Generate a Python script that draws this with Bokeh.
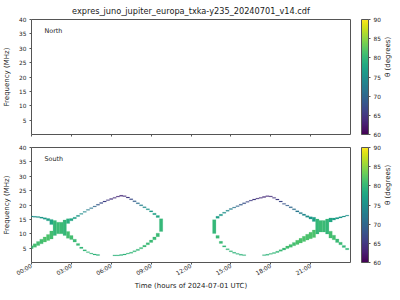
from math import pi
from bokeh.plotting import figure
from bokeh.models import (ColumnDataSource, ColorBar, LinearColorMapper, FixedTicker,
                          Label, Range1d, LinearAxis)
from bokeh.layouts import column
from bokeh.palettes import Viridis256
from bokeh.transform import linear_cmap
from bokeh.embed import file_html
from bokeh.resources import INLINE

# ---------------- texts & ticks ----------------
title_text = "expres_juno_jupiter_europa_txka-y235_20240701_v14.cdf"
x_label = "Time (hours of 2024-07-01 UTC)"
y_label = "Frequency (MHz)"
cbar_label = "θ (degrees)"
hemispheres = ["North", "South"]

time_ticks = [0, 3, 6, 9, 12, 15, 18, 21]
time_tick_labels = ["00:00", "03:00", "06:00", "09:00", "12:00", "15:00", "18:00", "21:00"]
freq_ticks = [5, 10, 15, 20, 25, 30, 35, 40]
theta_ticks = [60, 65, 70, 75, 80, 85, 90]
theta_low, theta_high = 60, 90
time_start, time_end = 0, 24
freq_low, freq_high = 0, 40
time_step = 0.25  # hours per spectrogram column

# ---------------- South hemisphere emission (North is empty) ----------------
# each branch: column time (h), centre frequency (MHz), bandwidth (MHz), theta (deg)
a_t = [0, 0.25, 0.5, 0.75, 1.0, 1.25, 1.5]
a_f = [16.0, 15.9, 15.8, 15.6, 15.3, 14.9, 14.1]
a_bw = [0.3, 0.3, 0.35, 0.4, 0.5, 0.8, 1.8]
a_th = [75, 75, 75.5, 76, 76.5, 77, 78]

b_t = [0, 0.25, 0.5, 0.75, 1.0, 1.25, 1.5]
b_f = [5.3, 5.9, 6.6, 7.3, 8.0, 8.7, 9.6]
b_bw = [1.0, 1.2, 1.4, 1.6, 1.8, 2.1, 2.8]
b_th = [80.5, 81, 81, 81, 81.5, 81.5, 81]

x1_t = [1.75, 2.0, 2.25, 2.5]
x1_f = [12.0, 12.0, 12.0, 12.1]
x1_bw = [5.2, 4.0, 4.0, 5.4]
x1_th = [80, 80.5, 80.5, 80]

c_t = [2.75, 3.0, 3.25, 3.5, 3.75, 4.0, 4.25, 4.5, 4.75, 5.0, 5.25, 5.5, 5.75, 6.0,
       6.25, 6.5, 6.75, 7.0, 7.25, 7.5, 7.75, 8.0, 8.25, 8.5, 8.75, 9.0, 9.25, 9.5]
c_f = [14.4, 14.9, 15.5, 16.2, 16.9, 17.6, 18.3, 18.9, 19.5, 20.1, 20.7, 21.2, 21.7, 22.1,
       22.5, 22.9, 23.2, 23.1, 22.6, 22.0, 21.3, 20.6, 19.9, 19.2, 18.5, 17.8, 16.9, 16.0]
c_bw = [1.6, 0.8, 0.5, 0.4, 0.3, 0.3, 0.3, 0.3, 0.3, 0.3, 0.3, 0.3, 0.3, 0.3,
        0.3, 0.3, 0.3, 0.3, 0.3, 0.3, 0.3, 0.3, 0.3, 0.3, 0.35, 0.4, 0.5, 0.7]
c_th = [79, 78, 77, 76, 75, 74, 73, 71.5, 70, 68.5, 67, 66, 65, 64.5,
        64, 63.5, 63.5, 64, 65, 67, 69, 71, 73, 74.5, 75.5, 76.5, 77, 78]

n1_t = [9.75]
n1_f = [13.0]
n1_bw = [4.4]
n1_th = [80]

d_t = [2.75, 3.0, 3.25, 3.5, 3.75, 4.0, 4.25, 4.5, 4.75, 5.0, 6.25, 6.5, 6.75, 7.0,
       7.25, 7.5, 7.75, 8.0, 8.25, 8.5, 8.75, 9.0, 9.25, 9.5]
d_f = [9.6, 8.7, 7.6, 6.3, 5.1, 4.2, 3.6, 3.1, 2.8, 2.6, 2.5, 2.5, 2.6, 2.8,
       3.1, 3.4, 3.9, 4.4, 5.0, 5.7, 6.5, 7.4, 8.4, 9.6]
d_bw = [2.4, 1.4, 1.0, 0.7, 0.5, 0.4, 0.3, 0.3, 0.3, 0.3, 0.3, 0.3, 0.3, 0.3,
        0.3, 0.35, 0.4, 0.45, 0.5, 0.6, 0.7, 0.8, 1.0, 1.2]
d_th = [81, 81, 80.5, 80.5, 80, 80, 80, 80, 79.5, 79.5, 79.5, 79.5, 79.5, 79.5,
        80, 80, 80, 80, 80.5, 80.5, 80.5, 80.5, 80.5, 80.5]

n2_t = [13.75]
n2_f = [12.5]
n2_bw = [4.8]
n2_th = [80]

e_t = [14.0, 14.25, 14.5, 14.75, 15.0, 15.25, 15.5, 15.75, 16.0, 16.25, 16.5, 16.75, 17.0, 17.25,
       17.5, 17.75, 18.0, 18.25, 18.5, 18.75, 19.0, 19.25, 19.5, 19.75, 20.0, 20.25, 20.5, 20.75,
       21.0, 21.25]
e_f = [15.7, 16.5, 17.3, 18.0, 18.6, 19.1, 19.6, 20.1, 20.6, 21.1, 21.5, 21.9, 22.2, 22.5,
       22.8, 23.1, 23.0, 22.5, 21.9, 21.2, 20.4, 19.8, 19.2, 18.5, 17.8, 17.2, 16.6, 16.0,
       15.5, 15.0]
e_bw = [0.7, 0.5, 0.4, 0.3, 0.3, 0.3, 0.3, 0.3, 0.3, 0.3, 0.3, 0.3, 0.3, 0.3,
        0.3, 0.3, 0.3, 0.3, 0.3, 0.3, 0.3, 0.3, 0.3, 0.35, 0.4, 0.45, 0.5, 0.6,
        0.8, 1.4]
e_th = [77, 76, 75, 74, 73, 71.5, 70, 68.5, 67.5, 66.5, 65.5, 65, 64.5, 64,
        63.5, 63.5, 64, 64.5, 65.5, 66.5, 67.5, 69, 70, 71, 72, 73, 74, 75,
        76, 77]

x2_t = [21.5, 21.75, 22.0, 22.25]
x2_f = [12.5, 12.6, 12.6, 12.5]
x2_bw = [5.2, 4.0, 4.0, 5.2]
x2_th = [80, 80.5, 80.5, 80]

f_t = [14.0, 14.25, 14.5, 14.75, 15.0, 15.25, 15.5, 15.75, 16.0, 17.5, 17.75, 18.0, 18.25,
       18.5, 18.75, 19.0, 19.25, 19.5, 19.75, 20.0, 20.25, 20.5, 20.75, 21.0, 21.25]
f_f = [8.9, 7.0, 5.6, 4.6, 3.9, 3.4, 3.0, 2.7, 2.55, 2.55, 2.7, 3.0, 3.3,
       3.7, 4.2, 4.7, 5.3, 5.8, 6.4, 7.0, 7.6, 8.2, 8.8, 9.4, 10.0]
f_bw = [1.0, 0.7, 0.5, 0.4, 0.3, 0.3, 0.3, 0.3, 0.3, 0.3, 0.3, 0.3, 0.35,
        0.45, 0.55, 0.7, 0.8, 1.0, 1.2, 1.4, 1.6, 1.8, 2.0, 2.2, 2.6]
f_th = [80.5, 80.5, 80, 80, 80, 79.5, 79.5, 79.5, 79.5, 79.5, 79.5, 80, 80,
        80, 80.5, 80.5, 81, 81, 81, 81.5, 81.5, 81.5, 81.5, 81.5, 81.5]

g_t = [22.5, 22.75, 23.0, 23.25, 23.5, 23.75]
g_f = [14.8, 15.1, 15.4, 15.7, 16.0, 16.3]
g_bw = [1.4, 0.7, 0.5, 0.4, 0.3, 0.3]
g_th = [78, 77, 76.5, 76, 75.5, 75]

h_t = [22.5, 22.75, 23.0, 23.25, 23.5, 23.75]
h_f = [9.7, 8.7, 7.6, 6.6, 5.6, 4.7]
h_bw = [2.4, 1.6, 1.2, 0.9, 0.7, 0.5]
h_th = [81, 81, 80.5, 80.5, 80, 80]

south_branches = [
    (a_t, a_f, a_bw, a_th), (b_t, b_f, b_bw, b_th), (x1_t, x1_f, x1_bw, x1_th),
    (c_t, c_f, c_bw, c_th), (n1_t, n1_f, n1_bw, n1_th), (d_t, d_f, d_bw, d_th),
    (n2_t, n2_f, n2_bw, n2_th), (e_t, e_f, e_bw, e_th), (x2_t, x2_f, x2_bw, x2_th),
    (f_t, f_f, f_bw, f_th), (g_t, g_f, g_bw, g_th), (h_t, h_f, h_bw, h_th),
]

# ---------------- styling ----------------
FONT = "DejaVu Sans"
TXT = "#1a1a1a"
SPINE = "#555555"
LEFT, RIGHT_B = 31, 50
FRAME_H = 115

mapper = LinearColorMapper(palette=Viridis256, low=theta_low, high=theta_high)


def make_panel(name, height, top, bottom, show_x):
    p = figure(width=400, height=height, output_backend="svg", toolbar_location=None,
               x_range=Range1d(time_start, time_end), y_range=Range1d(freq_low, freq_high),
               min_border_left=LEFT, min_border_right=RIGHT_B,
               min_border_top=top, min_border_bottom=bottom)
    p.xgrid.visible = False
    p.ygrid.visible = False
    p.outline_line_color = SPINE
    p.outline_line_width = 1
    p.background_fill_color = "white"
    p.border_fill_color = "white"
    for ax in (p.xaxis[0], p.yaxis[0]):
        ax.axis_line_color = None
        ax.major_tick_line_color = SPINE
        ax.major_tick_out = 2
        ax.major_tick_in = 0
        ax.minor_tick_line_color = None
        ax.major_label_text_font = FONT
        ax.major_label_text_font_size = "5.8px"
        ax.major_label_text_color = TXT
        ax.axis_label_text_font = FONT
        ax.axis_label_text_font_size = "7px"
        ax.axis_label_text_font_style = "normal"
        ax.axis_label_text_color = TXT
    p.yaxis.ticker = FixedTicker(ticks=freq_ticks)
    p.yaxis.axis_label = y_label
    p.yaxis.major_label_standoff = 3
    p.yaxis.axis_label_standoff = 5
    p.xaxis.ticker = FixedTicker(ticks=time_ticks)
    if show_x:
        p.xaxis.major_label_overrides = {h: s for h, s in zip(time_ticks, time_tick_labels)}
        p.xaxis.major_label_orientation = pi / 6
        p.xaxis.major_label_standoff = 1
        p.xaxis.axis_label = x_label
        p.xaxis.axis_label_standoff = 0
    else:
        p.xaxis.major_label_text_font_size = "1px"
        p.xaxis.major_label_text_alpha = 0
        p.xaxis.major_label_standoff = 0

    p.add_layout(Label(x=13, y=FRAME_H - 11, x_units="screen", y_units="screen", text=name,
                       text_font=FONT, text_font_size="6.4px", text_color=TXT,
                       text_align="left", text_baseline="alphabetic"))
    cb = ColorBar(color_mapper=mapper, ticker=FixedTicker(ticks=theta_ticks),
                  width=7, height=FRAME_H, margin=0, padding=0, location=(330, 0),
                  major_label_text_font=FONT, major_label_text_font_size="5.8px",
                  major_label_text_color=TXT, major_tick_out=2, major_tick_in=0,
                  major_tick_line_color=SPINE, minor_tick_line_color=None,
                  bar_line_color=SPINE, bar_line_width=1, border_line_color=None,
                  background_fill_color=None, label_standoff=3)
    p.add_layout(cb)
    lab_axis = LinearAxis(ticker=FixedTicker(ticks=[]), axis_label=cbar_label,
                          axis_label_orientation=pi / 2,
                          axis_line_color=None, major_tick_line_color=None,
                          minor_tick_line_color=None, major_tick_out=0, major_tick_in=0,
                          major_label_text_font_size="1px",
                          major_label_standoff=0, axis_label_standoff=37,
                          axis_label_text_font=FONT, axis_label_text_font_size="7px",
                          axis_label_text_font_style="normal", axis_label_text_color=TXT)
    p.add_layout(lab_axis, "right")
    return p


p1 = make_panel(hemispheres[0], 141, 19, 7, False)
p1.title.text = title_text
p1.title.align = "center"
p1.title.offset = -9.5
p1.title.text_font = FONT
p1.title.text_font_size = "8.2px"
p1.title.text_font_style = "normal"
p1.title.text_color = TXT
p1.title.standoff = 7

p2 = make_panel(hemispheres[1], 159, 6, 38, True)

cols = dict(left=[], right=[], bottom=[], top=[], theta=[])
for ts, fs, bws, ths in south_branches:
    for t, f, bw, th in zip(ts, fs, bws, ths):
        cols["left"].append(t - time_step / 2)
        cols["right"].append(t + time_step / 2)
        cols["bottom"].append(f - bw / 2)
        cols["top"].append(f + bw / 2)
        cols["theta"].append(th)
src = ColumnDataSource(cols)
cmap = linear_cmap("theta", Viridis256, theta_low, theta_high)
p2.quad(left="left", right="right", bottom="bottom", top="top", source=src,
        fill_color=cmap, line_color=cmap, line_width=0.2)

layout = column(p1, p2)
open("out.html", "w").write(file_html(layout, INLINE))
